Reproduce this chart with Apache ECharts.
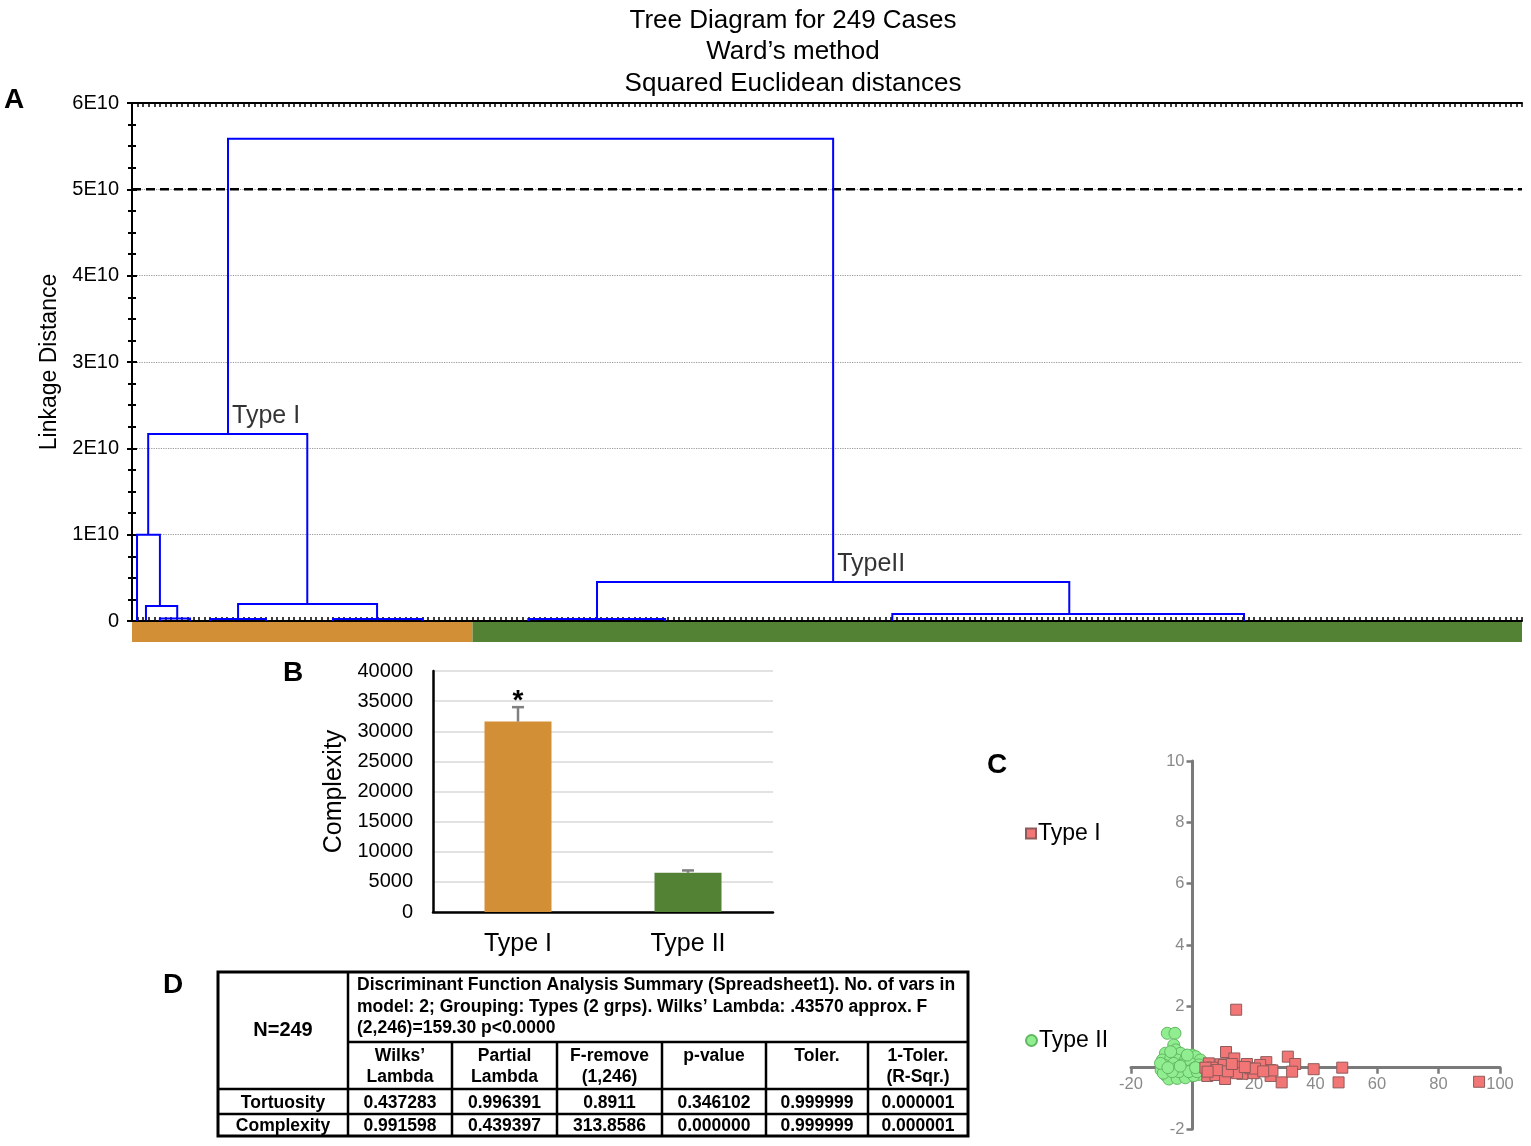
<!DOCTYPE html>
<html><head><meta charset="utf-8">
<script src="https://cdn.jsdelivr.net/npm/echarts@6/dist/echarts.min.js"></script>
<style>html,body{margin:0;padding:0;background:#fff}#c{width:1531px;height:1146px}</style>
</head><body><div id="c"></div>
<script>
// ---------- Panel A: dendrogram ----------
const titleLines = ['Tree Diagram for 249 Cases', 'Ward\u2019s method', 'Squared Euclidean distances'];
const nCases = 249;
const linkageTicks = [0, 1e10, 2e10, 3e10, 4e10, 5e10, 6e10];
const cutHeight = 5e10;
// each link: left leaf pos, right leaf pos, merge height, left child height, right child height
const linkLeft      = [17.2, 2.9, 0.9, 2.5, 5.0, 19.0, 14.0, 36.0, 83.3, 71.0, 136.2];
const linkRight     = [125.6, 31.4, 5.0, 8.1, 10.4, 43.9, 24.0, 52.0, 167.9, 95.5, 199.2];
const linkHeight    = [5.585e10, 2.167e10, 1.0e10, 0.174e10, 0.03e10, 0.197e10, 0.023e10, 0.023e10, 0.452e10, 0.023e10, 0.081e10];
const linkLeftBase  = [2.167e10, 1.0e10, 0, 0.01e10, 0, 0.023e10, 0, 0, 0.023e10, 0, 0];
const linkRightBase = [0.452e10, 0.197e10, 0.174e10, 0.03e10, 0, 0.023e10, 0, 0, 0.081e10, 0, 0];
const clusterNames = ['Type I', 'TypeII'];
const clusterAnchors = [[17.2, 2.167e10], [125.6, 0.452e10]];
const clusterSizes = [61, 188];

// ---------- Panel B: bar chart ----------
const barCats = ['Type I', 'Type II'];
const barMeans = [31600, 6500];
const barErrors = [2400, 400];
const barSig = ['*', ''];

// ---------- Panel C: scatter ----------
const scatterXRange = [-20, 100];
const scatterYRange = [-2, 10];
const typeIPoints = [
  [14.2,1.89],[10.9,0.51],[13.6,0.30],[31.0,0.36],[33.4,0.12],[24.0,0.18],[17.7,0.12],[5.3,0.14],
  [9.1,0.11],[4.8,-0.27],[7.5,-0.24],[10.6,-0.37],[15.6,-0.11],[16.2,-0.20],[18.8,-0.02],[21.0,-0.08],
  [25.3,-0.08],[25.4,-0.27],[29.0,-0.48],[32.4,-0.13],[39.4,-0.05],[47.5,-0.48],[48.7,0.0],[93.2,-0.46],
  [12.3,-0.02],[14.0,0.03],[10.2,0.09],[6.4,0.0],[8.0,-0.08],[4.2,0.0],[14.5,-0.18],[22.0,0.09],
  [19.9,-0.18],[20.3,-0.03],[26.0,-0.09],[4.9,-0.13],[11.5,-0.12],[17.0,0.02],[23.0,-0.12],[12.8,0.12]
];
const typeIIPoints = [
  [-8.2,1.12],[-5.7,1.12],[-6.1,0.74],[-5.5,0.58],[-8.8,0.47],[-3.9,0.47],[-0.1,0.41],[1.0,0.36],
  [-9.8,0.25],[-7.1,0.30],[-5.0,0.25],[-2.3,0.25],[2.6,0.25],[-9.3,0.09],[-6.1,0.14],[-3.4,0.09],
  [-0.6,0.14],[2.1,0.09],[-10.2,-0.08],[-7.7,-0.04],[-5.2,-0.02],[-2.8,-0.08],[0.4,-0.02],[3.1,-0.02],
  [-8.8,-0.24],[-6.3,-0.26],[-3.4,-0.22],[-0.6,-0.24],[2.1,-0.22],[-7.7,-0.37],[-5.0,-0.35],[-2.3,-0.33],
  [0.4,-0.26],[-9.5,-0.18],[-1.7,0.41],[-7.1,0.52],[-10.4,0.14],[-4.4,-0.13],[-1.2,-0.13],[1.5,-0.13],
  [-6.6,-0.13],[-4.0,0.05],[-8.0,0.0],[1.0,0.0]
];

// ---------- Panel D: table ----------
const tableN = 'N=249';
const tableCaption = ['Discriminant Function Analysis Summary (Spreadsheet1). No. of vars in',
  'model: 2; Grouping: Types (2 grps). Wilks\u2019 Lambda: .43570 approx. F',
  '(2,246)=159.30 p<0.0000'];
const tableHeaders = ['Wilks\u2019\nLambda', 'Partial\nLambda', 'F-remove\n(1,246)', 'p-value', 'Toler.', '1-Toler.\n(R-Sqr.)'];
const tableRowNames = ['Tortuosity', 'Complexity'];
const tortuosityValues = ['0.437283', '0.996391', '0.8911', '0.346102', '0.999999', '0.000001'];
const complexityValues = ['0.991598', '0.439397', '313.8586', '0.000000', '0.999999', '0.000001'];

const FONT = 'Arial, "Liberation Sans", Helvetica, sans-serif';
const chart = echarts.init(document.getElementById('c'));

const linkData = linkLeft.map((L, i) => ({
  coords: [[L, linkLeftBase[i]], [L, linkHeight[i]], [linkRight[i], linkHeight[i]], [linkRight[i], linkRightBase[i]]]
}));

// scatter grid geometry (pixels) and axis offsets so axes cross at (0,0)
const sgLeft = 1131, sgRight = 31, sgTop = 761, sgBottom = 1146 - 1129;
const sgW = 1531 - sgLeft - sgRight, sgH = 1146 - sgTop - sgBottom;
const yAxisShift = -(0 - scatterXRange[0]) / (scatterXRange[1] - scatterXRange[0]) * sgW;
const xAxisShift = -(0 - scatterYRange[0]) / (scatterYRange[1] - scatterYRange[0]) * sgH;

// table graphics
const colEdges = [218, 348, 452, 557, 662, 766, 868, 968];
const rowEdges = [972, 1042, 1089, 1114, 1136];
const TF = 'bold 17.5px ' + FONT;
const tg = [];
const boldText = (x, y, text, opts) => tg.push(Object.assign({
  type: 'text', x: x, y: y,
  style: Object.assign({text: text, font: TF, fill: '#000', align: 'center', verticalAlign: 'middle'}, opts || {})
}));
const hline = (x1, x2, y, w) => tg.push({type: 'line', shape: {x1: x1, y1: y, x2: x2, y2: y}, style: {stroke: '#000', lineWidth: w}});
const vline = (x, y1, y2, w) => tg.push({type: 'line', shape: {x1: x, y1: y1, x2: x, y2: y2}, style: {stroke: '#000', lineWidth: w}});
tg.push({type: 'rect', shape: {x: colEdges[0], y: rowEdges[0], width: colEdges[7] - colEdges[0], height: rowEdges[4] - rowEdges[0]},
  style: {fill: 'none', stroke: '#000', lineWidth: 3}});
hline(colEdges[1], colEdges[7], rowEdges[1], 2.5);
hline(colEdges[0], colEdges[7], rowEdges[2], 2.5);
hline(colEdges[0], colEdges[7], rowEdges[3], 2.5);
vline(colEdges[1], rowEdges[0], rowEdges[4], 2.5);
for (let c = 2; c < 7; c++) vline(colEdges[c], rowEdges[1], rowEdges[4], 2.5);
boldText((colEdges[0] + colEdges[1]) / 2, (rowEdges[0] + rowEdges[2]) / 2, tableN, {font: 'bold 20px ' + FONT});
tableCaption.forEach((t, i) => boldText(357, 985 + i * 21.7, t, {align: 'left'}));
tableHeaders.forEach((t, i) => boldText((colEdges[i + 1] + colEdges[i + 2]) / 2, 1045, t,
  {verticalAlign: 'top', lineHeight: 21.5}));
[tortuosityValues, complexityValues].forEach((vals, r) => {
  const cy = (rowEdges[r + 2] + rowEdges[r + 3]) / 2 + 1.5;
  boldText((colEdges[0] + colEdges[1]) / 2, cy, tableRowNames[r]);
  vals.forEach((v, i) => boldText((colEdges[i + 1] + colEdges[i + 2]) / 2, cy, v));
});
// panel letters
[['A', 4, 86], ['B', 283, 659], ['C', 987, 751], ['D', 163, 971]].forEach(p => tg.push({
  type: 'text', x: p[1], y: p[2], style: {text: p[0], font: 'bold 28px ' + FONT, fill: '#000'}
}));

const scatterAxisColor = '#7a7a7a';

chart.setOption({
  animation: false,
  backgroundColor: '#fff',
  title: {
    text: titleLines.join('\n'), left: 788, top: 0, textAlign: 'center',
    textStyle: {fontFamily: FONT, fontSize: 26, fontWeight: 'normal', color: '#000', lineHeight: 31.5}
  },
  legend: [
    {data: ['Type I'], left: 1020, top: 817, icon: 'rect', itemWidth: 10, itemHeight: 10,
      textStyle: {fontFamily: FONT, fontSize: 23, color: '#000', padding: [0, 0, 0, -3]}},
    {data: ['Type II'], left: 1020, top: 1024, icon: 'circle', itemWidth: 11, itemHeight: 11,
      textStyle: {fontFamily: FONT, fontSize: 23, color: '#000', padding: [0, 0, 0, -3]}}
  ],
  grid: [
    {left: 132, right: 9, top: 103, bottom: 1146 - 621},
    {left: 433, right: 1531 - 773, top: 671, bottom: 1146 - 912},
    {left: sgLeft, right: sgRight, top: sgTop, bottom: sgBottom},
    {left: 132, right: 9, top: 622, bottom: 1146 - 642}
  ],
  xAxis: [
    {gridIndex: 0, type: 'value', min: 0, max: nCases, interval: 1, position: 'bottom',
      axisLine: {onZero: false, lineStyle: {color: '#000', width: 2}},
      axisTick: {inside: true, length: 4, lineStyle: {color: '#000', width: 1.5}},
      axisLabel: {show: false}, splitLine: {show: false}},
    {gridIndex: 0, type: 'value', min: 0, max: nCases, interval: 1, position: 'top',
      axisLine: {onZero: false, lineStyle: {color: '#000', width: 2}},
      axisTick: {inside: true, length: 4, lineStyle: {color: '#000', width: 1.5}},
      axisLabel: {show: false}, splitLine: {show: false}},
    {gridIndex: 1, type: 'category', data: barCats,
      axisLine: {lineStyle: {color: '#000', width: 2.5}}, axisTick: {show: false},
      axisLabel: {fontFamily: FONT, fontSize: 25, color: '#000', margin: 20}},
    {gridIndex: 2, type: 'value', min: scatterXRange[0], max: scatterXRange[1], interval: 20,
      position: 'bottom', offset: xAxisShift,
      axisLine: {onZero: false, lineStyle: {color: scatterAxisColor, width: 3}},
      axisTick: {length: 6, lineStyle: {color: scatterAxisColor, width: 2.5}},
      axisLabel: {fontFamily: FONT, fontSize: 16.5, color: '#8a8a8a', margin: 8, formatter: v => v === 0 ? '' : v},
      splitLine: {show: false}},
    {gridIndex: 3, type: 'value', min: 0, max: nCases, show: false}
  ],
  yAxis: [
    {gridIndex: 0, type: 'value', min: linkageTicks[0], max: linkageTicks[linkageTicks.length - 1], interval: 1e10,
      name: 'Linkage Distance', nameLocation: 'middle', nameGap: 63,
      nameTextStyle: {fontFamily: FONT, fontSize: 23, color: '#000'},
      axisLine: {show: true, lineStyle: {color: '#000', width: 2}},
      axisTick: {show: true, inside: true, length: 5, lineStyle: {color: '#000', width: 2}},
      minorTick: {show: true, splitNumber: 4, length: 4, lineStyle: {color: '#000', width: 2}},
      axisLabel: {fontFamily: FONT, fontSize: 20, color: '#000', margin: 13,
        formatter: v => v === 0 ? '0' : (v / 1e10) + 'E10'},
      splitLine: {show: true, lineStyle: {color: '#9a9a9a', type: 'dotted', width: 1.2}}},
    {gridIndex: 0, type: 'value', min: 0, max: 6e10, interval: 1e10, position: 'right',
      axisLine: {show: true, lineStyle: {color: '#000', width: 2}},
      axisTick: {show: true, inside: true, length: 5, lineStyle: {color: '#000', width: 2}},
      minorTick: {show: true, splitNumber: 4, length: 4, lineStyle: {color: '#000', width: 2}},
      axisLabel: {show: false}, splitLine: {show: false}},
    {gridIndex: 1, type: 'value', min: 0, max: 40000, interval: 5000,
      name: 'Complexity', nameLocation: 'middle', nameGap: 86,
      nameTextStyle: {fontFamily: FONT, fontSize: 25, color: '#000'},
      axisLine: {show: true, lineStyle: {color: '#000', width: 2.5}}, axisTick: {show: false},
      axisLabel: {fontFamily: FONT, fontSize: 20, color: '#000', margin: 20, formatter: v => String(v)},
      splitLine: {show: true, lineStyle: {color: '#d9d9d9', width: 1.5}}},
    {gridIndex: 2, type: 'value', min: scatterYRange[0], max: scatterYRange[1], interval: 2,
      position: 'left', offset: yAxisShift,
      axisLine: {onZero: false, lineStyle: {color: scatterAxisColor, width: 3}},
      axisTick: {length: 6, lineStyle: {color: scatterAxisColor, width: 2.5}},
      axisLabel: {fontFamily: FONT, fontSize: 16.5, color: '#8a8a8a', margin: 8, formatter: v => v === 0 ? '' : v},
      splitLine: {show: false}},
    {gridIndex: 3, type: 'category', data: ['cluster'], show: false}
  ],
  series: [
    {type: 'lines', name: 'dendrogram', coordinateSystem: 'cartesian2d', xAxisIndex: 0, yAxisIndex: 0,
      polyline: true, silent: true, data: linkData,
      lineStyle: {color: '#0000ff', width: 2, opacity: 1}, z: 5},
    {type: 'line', name: 'cut', xAxisIndex: 0, yAxisIndex: 0, symbol: 'none', silent: true,
      data: [[0, cutHeight], [nCases, cutHeight]],
      lineStyle: {color: '#000', width: 2.5, type: [9, 5]}, z: 4},
    {type: 'scatter', name: 'cluster labels', xAxisIndex: 0, yAxisIndex: 0, symbolSize: 0, silent: true,
      data: clusterAnchors.map((a, i) => ({value: a, label: {formatter: clusterNames[i]}})),
      label: {show: true, position: [4, -30], fontFamily: FONT, fontSize: 25, color: '#000'}, z: 6},
    {type: 'bar', name: 'Type I cluster', xAxisIndex: 4, yAxisIndex: 4, stack: 'band', barWidth: '100%',
      data: [clusterSizes[0]], itemStyle: {color: '#d38f36'}, silent: true},
    {type: 'bar', name: 'Type II cluster', xAxisIndex: 4, yAxisIndex: 4, stack: 'band', barWidth: '100%',
      data: [clusterSizes[1]], itemStyle: {color: '#538234'}, silent: true},
    {type: 'bar', name: 'Complexity', xAxisIndex: 2, yAxisIndex: 2, barWidth: 67,
      data: barMeans.map((v, i) => ({value: v, itemStyle: {color: i === 0 ? '#d38f36' : '#538234'}}))},
    {type: 'custom', name: 'error', xAxisIndex: 2, yAxisIndex: 2, silent: true, z: 5,
      data: barMeans.map((m, i) => [i, m, m + barErrors[i]]),
      renderItem: function (params, api) {
        const base = api.coord([api.value(0), api.value(1)]);
        const top = api.coord([api.value(0), api.value(2)]);
        const sig = barSig[params.dataIndex];
        const children = [
          {type: 'line', shape: {x1: top[0], y1: base[1], x2: top[0], y2: top[1]}, style: {stroke: '#808080', lineWidth: 2.5}},
          {type: 'line', shape: {x1: top[0] - 6, y1: top[1], x2: top[0] + 6, y2: top[1]}, style: {stroke: '#808080', lineWidth: 2.5}}
        ];
        if (sig) children.push({type: 'text', x: top[0], y: top[1] - 20,
          style: {text: sig, font: 'bold 28px ' + FONT, fill: '#000', align: 'center', verticalAlign: 'top'}});
        return {type: 'group', children: children};
      }},
    {type: 'scatter', name: 'Type II', xAxisIndex: 3, yAxisIndex: 3, symbol: 'circle', symbolSize: 12,
      data: typeIIPoints, itemStyle: {color: '#90ee90', borderColor: '#62b862', borderWidth: 1, opacity: 1}},
    {type: 'scatter', name: 'Type I', xAxisIndex: 3, yAxisIndex: 3, symbol: 'rect', symbolSize: 11,
      data: typeIPoints, itemStyle: {color: '#f27676', borderColor: '#8f5a5a', borderWidth: 1, opacity: 1}}
  ],
  graphic: tg
});
</script></body></html>
